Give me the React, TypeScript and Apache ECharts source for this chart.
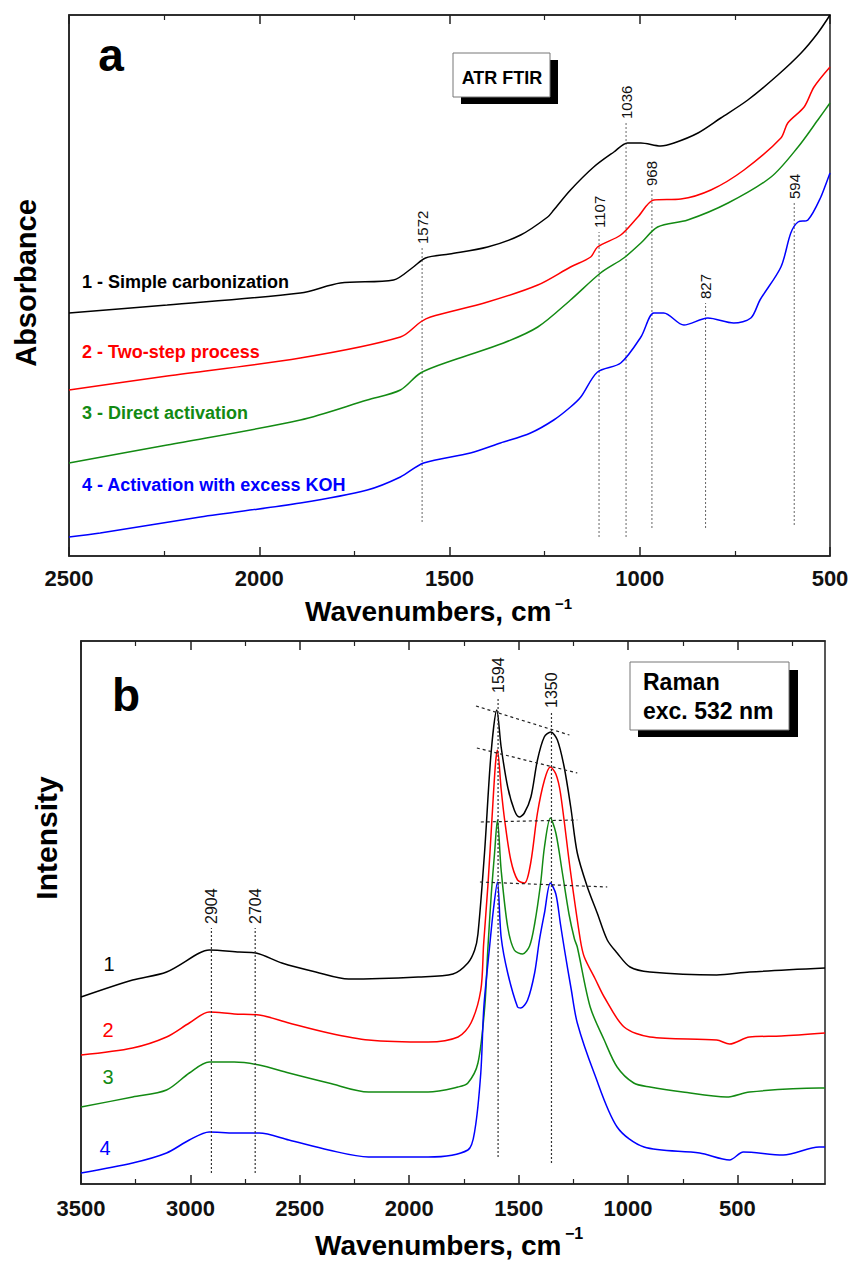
import React, { useEffect, useRef } from 'react';
import * as echarts from 'echarts';

const FONT = "'Liberation Sans', Arial, Helvetica, sans-serif";

// ---------- Panel a: ATR FTIR (wavenumber, absorbance in arbitrary offset units) ----------
const ftirSimple = [[2500,243],[2242,251],[1892,263],[1787,273],[1647,276],[1595,289],[1563,298],[1500,302],[1400,309],[1313,321],[1242,339],[1226,346],[1182,366],[1121,389],[1068,404],[1032,413],[997,413],[945,410],[910,413],[847,423],[787,438],[716,456],[637,481],[576,503],[532,523],[500,541]];
const ftirTwoStep = [[2500,166],[2242,180],[1892,198],[1629,219],[1576,234],[1550,239],[1400,254],[1268,271],[1182,289],[1129,299],[1111,309],[1050,321],[1005,339],[963,356],[892,357],[813,366],[726,386],[629,418],[611,433],[568,449],[542,469],[500,489]];
const ftirDirect = [[2500,93],[2242,111],[1892,136],[1716,156],[1629,166],[1576,183],[1489,196],[1358,213],[1268,229],[1182,256],[1103,283],[1042,298],[997,313],[953,329],[874,336],[768,353],[655,379],[584,409],[532,436],[500,453]];
const ftirKOH = [[2500,19],[2418,23],[2155,39],[1892,53],[1716,66],[1629,79],[1568,93],[1445,103],[1366,113],[1287,123],[1226,136],[1182,149],[1155,159],[1111,184],[1050,193],[997,219],[963,243],[937,243],[884,231],[821,238],[753,233],[708,238],[684,256],[629,289],[603,323],[584,334],[558,336],[524,359],[500,383]];

const ftirNames = ['1 - Simple carbonization', '2 - Two-step process', '3 - Direct activation', '4 - Activation with excess KOH'];
// band position, line bottom, line top
const ftirBands = [[1572,34,308],[1107,19,324],[1036,19,433],[968,28,366],[827,28,253],[594,31,353]];

// ---------- Panel b: Raman (wavenumber, intensity in arbitrary offset units) ----------
const ramanBlack = [[3500,187],[3264,204],[3109,212],[2959,231],[2914,234],[2777,232],[2700,231],[2582,221],[2427,212],[2277,205],[1959,207],[1800,210],[1732,221],[1701,234],[1686,250],[1656,331],[1626,431],[1600,474],[1580,437],[1550,397],[1520,374],[1497,367],[1474,371],[1444,387],[1414,424],[1383,447],[1353,452],[1323,444],[1292,417],[1262,377],[1232,331],[1186,297],[1141,271],[1095,244],[1050,231],[991,217],[900,212],[595,209],[445,212],[100,216]];
const ramanRed = [[3500,129],[3264,136],[3109,147],[3005,161],[2914,172],[2800,170],[2686,169],[2550,161],[2368,151],[2186,144],[1914,142],[1777,147],[1718,161],[1673,194],[1660,240],[1640,300],[1622,365],[1606,420],[1597,434],[1580,395],[1564,364],[1536,324],[1505,304],[1473,301],[1445,321],[1414,371],[1382,404],[1355,417],[1330,410],[1309,391],[1264,314],[1218,244],[1200,227],[1150,205],[1109,187],[1018,157],[900,147],[595,144],[536,140],[445,147],[300,148],[100,151]];
const ramanGreen = [[3500,77],[3264,87],[3109,94],[3005,111],[2914,122],[2800,122],[2686,119],[2550,111],[2368,101],[2186,92],[1914,92],[1777,97],[1732,101],[1686,121],[1655,177],[1641,234],[1625,290],[1610,331],[1597,364],[1580,314],[1550,257],[1520,234],[1482,230],[1450,238],[1427,260],[1400,300],[1382,337],[1355,366],[1330,351],[1300,311],[1270,270],[1245,245],[1232,237],[1173,177],[1109,144],[1050,117],[974,101],[900,97],[750,92],[550,87],[445,92],[127,96],[100,96]];
const ramanBlue = [[3500,11],[3264,21],[3109,31],[3005,44],[2914,52],[2800,51],[2686,51],[2550,44],[2368,34],[2186,27],[1914,27],[1732,34],[1700,54],[1673,111],[1659,177],[1632,239],[1615,275],[1597,302],[1580,247],[1550,211],[1505,177],[1490,176],[1459,184],[1427,211],[1405,244],[1382,271],[1355,301],[1330,290],[1309,260],[1291,235],[1260,195],[1232,161],[1155,111],[1050,57],[927,37],[673,31],[536,24],[473,32],[291,29],[127,37],[100,37]];

const ramanLabels = ['1', '2', '3', '4'];
const ramanBands = [[2904,11,256],[2704,11,256],[1594,27,487],[1350,21,472]];
// dashed guide lines through the D and G band maxima
const ramanGuides = [
  [[1695,478],[1268,449]],
  [[1691,436],[1232,411]],
  [[1673,362],[1232,364]],
  [[1677,302],[1095,297]],
];

const colors = ['#000000', '#ff0000', '#138a13', '#0000ff'];
const ramanMajor = [500, 1000, 1500, 2000, 2500, 3000, 3500];
const ramanMinor = [250, 750, 1250, 1750, 2250, 2750, 3250];

const AX = '#222';

function baseX(gridIndex: number, position: string, extra: any) {
  return {
    type: 'value', gridIndex, position, inverse: true,
    axisLine: { show: true, lineStyle: { color: AX, width: 1.5 } },
    axisTick: { show: true, inside: true, length: 9, lineStyle: { color: AX, width: 1.5 } },
    axisLabel: { show: false },
    splitLine: { show: false },
    ...extra,
  };
}

const tickLabel = { show: true, fontSize: 22, fontWeight: 'bold', color: '#111', fontFamily: FONT, showMinLabel: true, showMaxLabel: true, formatter: (v: number) => String(v) };

export default function App() {
  const ref = useRef<HTMLDivElement>(null);
  useEffect(() => {
    const chart = echarts.init(ref.current!, null, { renderer: 'svg' });
    const series: any[] = [];
    [ftirSimple, ftirTwoStep, ftirDirect, ftirKOH].forEach((d, i) => {
      series.push({ type: 'line', name: ftirNames[i], xAxisIndex: 0, yAxisIndex: 0, data: d, showSymbol: false, smooth: 0.3, lineStyle: { color: colors[i], width: 1.5 }, z: 3 });
    });
    [ramanBlack, ramanRed, ramanGreen, ramanBlue].forEach((d, i) => {
      series.push({ type: 'line', name: 'Raman ' + ramanLabels[i], xAxisIndex: 3, yAxisIndex: 1, data: d, showSymbol: false, smooth: 0.3, lineStyle: { color: colors[i], width: 1.5 }, z: 3 });
    });
    const ftirBandStart = series.length;
    ftirBands.forEach((b) => {
      series.push({ type: 'line', xAxisIndex: 0, yAxisIndex: 0, data: [[b[0], b[1]], [b[0], b[2]]], showSymbol: false, lineStyle: { color: '#666', width: 1, type: [2, 2] }, z: 2 });
    });
    const ramanBandStart = series.length;
    ramanBands.forEach((b) => {
      series.push({ type: 'line', xAxisIndex: 3, yAxisIndex: 1, data: [[b[0], b[1]], [b[0], b[2]]], showSymbol: false, lineStyle: { color: '#333', width: 1.2, type: [2, 2] }, z: 4 });
    });
    ramanGuides.forEach((g) => {
      series.push({ type: 'line', xAxisIndex: 3, yAxisIndex: 1, data: g, showSymbol: false, lineStyle: { color: '#222', width: 1.2, type: [3, 3] }, z: 4 });
    });

    chart.setOption({
      animation: false,
      backgroundColor: '#ffffff',
      grid: [
        { left: 69, top: 15, width: 761, height: 541, show: true, borderColor: AX, borderWidth: 1.5, backgroundColor: 'transparent' },
        { left: 81, top: 641, width: 744, height: 543, show: true, borderColor: AX, borderWidth: 1.5, backgroundColor: 'transparent' },
      ],
      xAxis: [
        baseX(0, 'bottom', { min: 500, max: 2500, interval: 500, minorTick: { show: true, splitNumber: 2, length: 5, lineStyle: { color: AX, width: 1.2 } }, axisLabel: { ...tickLabel, margin: 11 } }),
        baseX(0, 'top', { min: 500, max: 2500, interval: 500, minorTick: { show: true, splitNumber: 2, length: 5, lineStyle: { color: AX, width: 1.2 } } }),
        baseX(1, 'bottom', { min: 100, max: 3500, axisTick: { show: true, inside: true, length: 5, customValues: ramanMinor, lineStyle: { color: AX, width: 1.2 } }, axisLine: { show: false } }),
        baseX(1, 'bottom', { min: 100, max: 3500, axisTick: { show: true, inside: true, length: 9, customValues: ramanMajor, lineStyle: { color: AX, width: 1.5 } }, axisLabel: { ...tickLabel, margin: 13, customValues: ramanMajor } }),
        baseX(1, 'top', { min: 100, max: 3500, axisTick: { show: true, inside: true, length: 9, customValues: ramanMajor, lineStyle: { color: AX, width: 1.5 } } }),
        baseX(1, 'top', { min: 100, max: 3500, axisTick: { show: true, inside: true, length: 5, customValues: ramanMinor, lineStyle: { color: AX, width: 1.2 } }, axisLine: { show: false } }),
      ],
      yAxis: [
        { type: 'value', gridIndex: 0, min: 0, max: 541, axisLine: { show: true, lineStyle: { color: AX, width: 1.5 } }, axisTick: { show: false }, axisLabel: { show: false }, splitLine: { show: false } },
        { type: 'value', gridIndex: 1, min: 0, max: 543, axisLine: { show: true, lineStyle: { color: AX, width: 1.5 } }, axisTick: { show: false }, axisLabel: { show: false }, splitLine: { show: false } },
      ],
      series,
    });

    const txt = (x: number, y: number, text: string, opts: any = {}, rotation = 0) => ({
      type: 'text', x, y, rotation, z: 100,
      style: { text, fontFamily: FONT, fontSize: 18, fontWeight: 'bold', fill: '#000', align: 'left', verticalAlign: 'middle', ...opts },
    });

    const graphics: any[] = [];
    // panel letters
    graphics.push(txt(111, 55, 'a', { fontSize: 46, align: 'center' }));
    graphics.push(txt(126, 695, 'b', { fontSize: 46, align: 'center' }));
    // axis titles
    graphics.push(txt(26, 283, 'Absorbance', { fontSize: 29, align: 'center' }, Math.PI / 2));
    graphics.push(txt(46, 838, 'Intensity', { fontSize: 30, align: 'center' }, Math.PI / 2));
    graphics.push(txt(305, 611, 'Wavenumbers, cm', { fontSize: 28 }));
    graphics.push(txt(555, 603, '\u22121', { fontSize: 15 }));
    graphics.push(txt(315, 1245, 'Wavenumbers, cm', { fontSize: 28 }));
    graphics.push(txt(565, 1233, '\u22121', { fontSize: 16 }));
    // ATR FTIR box
    graphics.push({ type: 'rect', z: 100, shape: { x: 461, y: 60, width: 97, height: 44 }, style: { fill: '#000' } });
    graphics.push({ type: 'rect', z: 101, shape: { x: 453, y: 53, width: 97, height: 44 }, style: { fill: '#fff', stroke: '#777', lineWidth: 1 } });
    graphics.push({ ...txt(502, 78, 'ATR FTIR', { fontSize: 18, align: 'center' }), z: 102 });
    // Raman box
    graphics.push({ type: 'rect', z: 100, shape: { x: 638, y: 670, width: 160, height: 67 }, style: { fill: '#000' } });
    graphics.push({ type: 'rect', z: 101, shape: { x: 630, y: 662, width: 159, height: 68 }, style: { fill: '#fff', stroke: '#777', lineWidth: 1 } });
    graphics.push({ ...txt(643, 682, 'Raman', { fontSize: 23 }), z: 102 });
    graphics.push({ ...txt(643, 711, 'exc. 532 nm', { fontSize: 23 }), z: 102 });
    // panel a series labels
    const ftirLabelY = [282, 352, 413, 485];
    ftirNames.forEach((n, i) => graphics.push(txt(82, ftirLabelY[i], n, { fill: colors[i], fontSize: 18 })));
    // panel b series numbers
    const ramanLabelPos = [[109, 964], [108, 1030], [108, 1077], [105, 1148]];
    ramanLabels.forEach((n, i) => graphics.push(txt(ramanLabelPos[i][0], ramanLabelPos[i][1], n, { fill: colors[i], fontSize: 20, fontWeight: 'normal', align: 'center' })));
    // band labels, placed through the axes' scales
    ftirBands.forEach((b, i) => {
      const p = chart.convertToPixel({ seriesIndex: ftirBandStart + i }, [b[0], b[2]]) as number[];
      graphics.push(txt(p[0], p[1] - 4, String(b[0]), { fontSize: 15, fontWeight: 'normal', fill: '#111' }, Math.PI / 2));
    });
    ramanBands.forEach((b, i) => {
      const p = chart.convertToPixel({ seriesIndex: ramanBandStart + i }, [b[0], b[2]]) as number[];
      graphics.push(txt(p[0], p[1] - 4, String(b[0]), { fontSize: 16, fontWeight: 'normal', fill: '#111' }, Math.PI / 2));
    });
    chart.setOption({ graphic: graphics });

    return () => chart.dispose();
  }, []);
  return <div ref={ref} style={{ position: 'absolute', left: 0, top: 0, width: 853, height: 1261 }} />;
}
